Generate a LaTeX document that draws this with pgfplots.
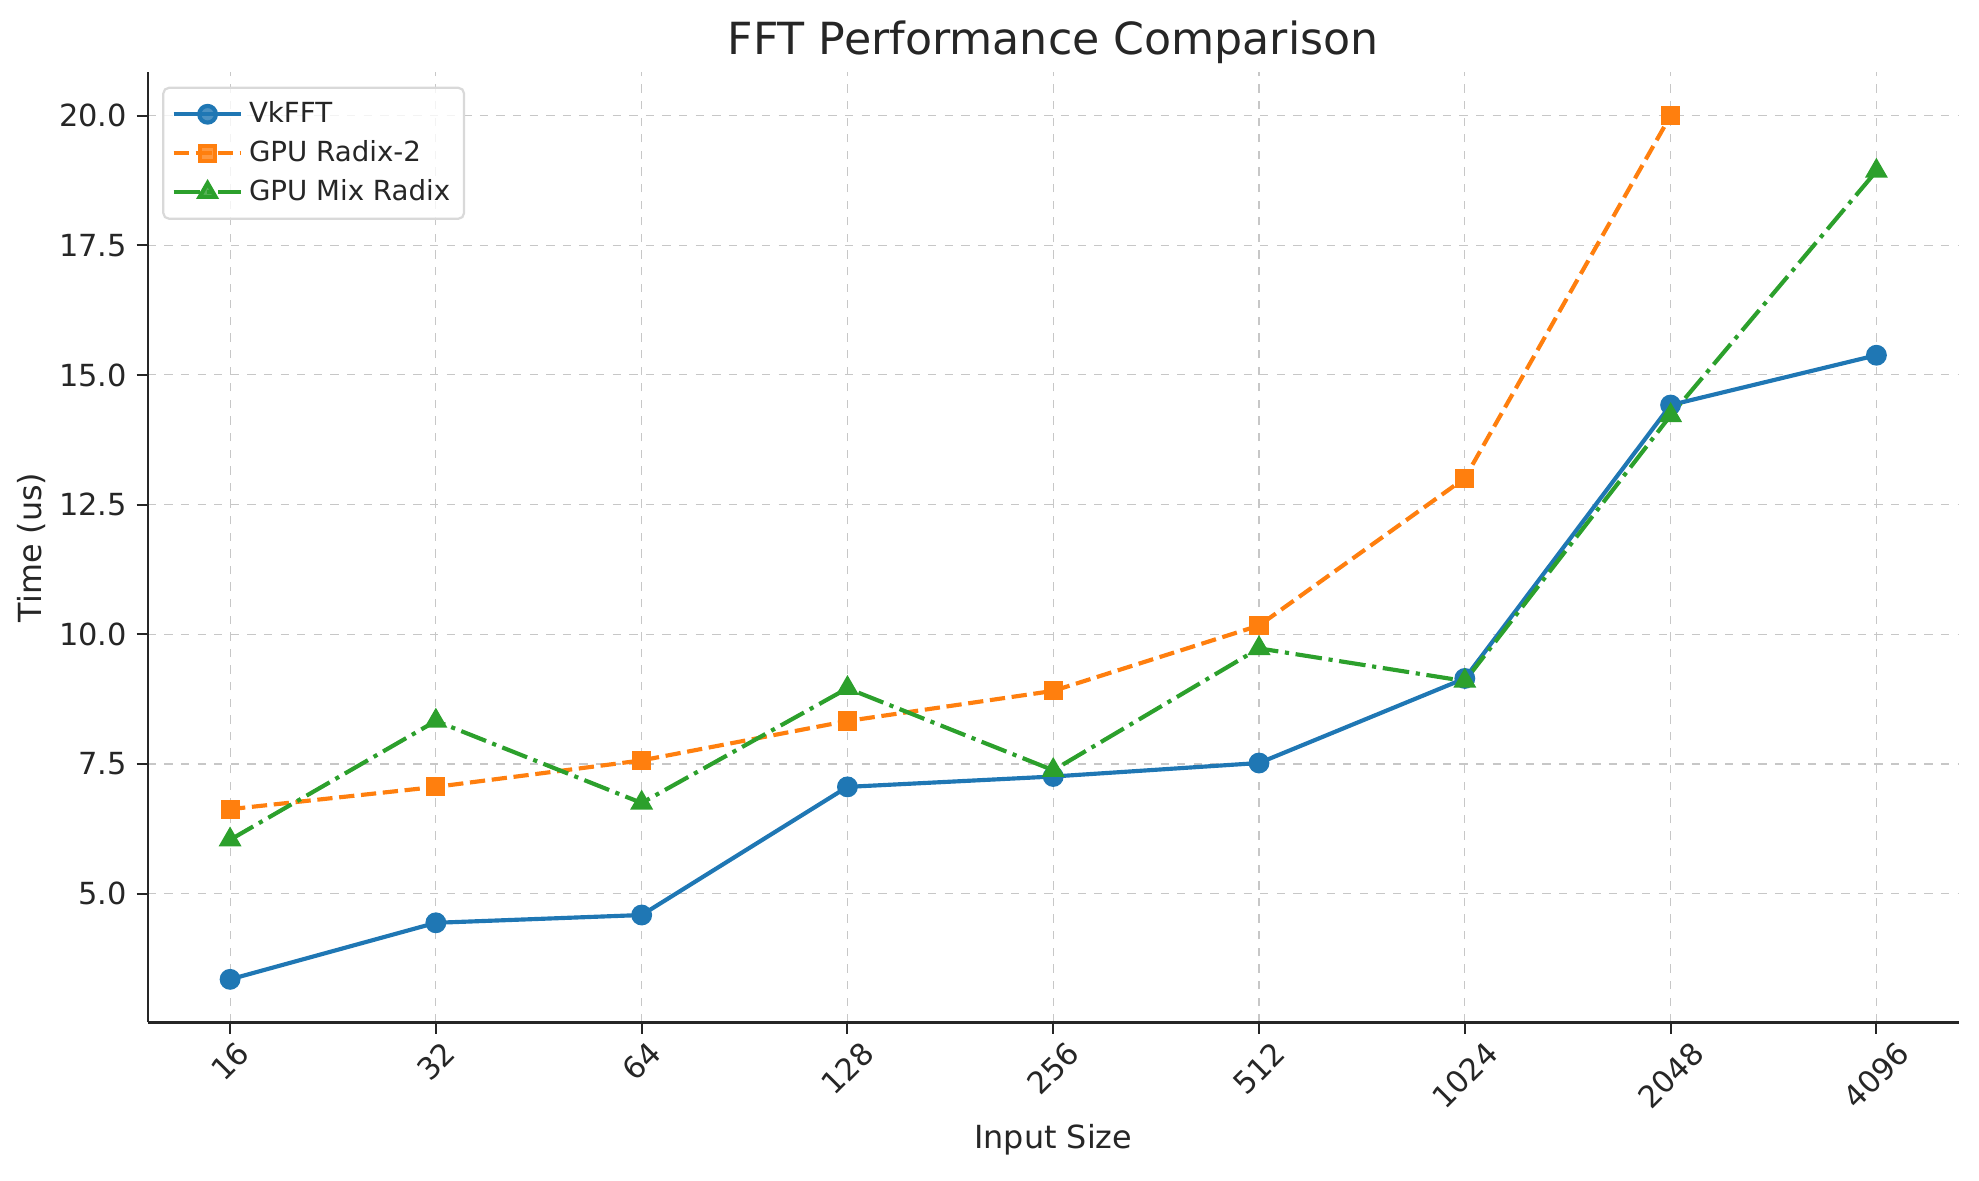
\documentclass[border=0pt]{standalone}
\usepackage{pgfplots}
\pgfplotsset{compat=1.18}
\usepackage{graphicx}
\usepackage{fontspec}
\setmainfont{DejaVu Sans}
\definecolor{tblue}{HTML}{1F77B4}
\definecolor{torange}{HTML}{FF7F0E}
\definecolor{tgreen}{HTML}{2CA02C}
\definecolor{txt}{HTML}{262626}
\begin{document}
\begin{tikzpicture}
\path[use as bounding box] (-53.2bp,-56.8bp) rectangle (659.3bp,368.1bp);
\begin{axis}[
  at={(0,0)}, anchor=south west,
  scale only axis, width=652bp, height=342bp,
  xmin=-0.4, xmax=8.4, ymin=2.52, ymax=20.83,
  axis lines*=left,
  axis line style={line width=0.9pt, color=txt},
  xtick={0,...,8},
  xticklabels={\rotatebox{45}{16},\rotatebox{45}{32},\rotatebox{45}{64},\rotatebox{45}{128},\rotatebox{45}{256},\rotatebox{45}{512},\rotatebox{45}{1024},\rotatebox{45}{2048},\rotatebox{45}{4096}},
  ytick={5,7.5,10,12.5,15,17.5,20},
  yticklabel style={/pgf/number format/fixed, /pgf/number format/fixed zerofill, /pgf/number format/precision=1},
  /pgf/number format/assume math mode=true,
  x tick label style={anchor=north, font=\fontsize{11}{13}\selectfont, text=txt, inner sep=2bp},
  y tick label style={font=\fontsize{11}{13}\selectfont, text=txt},
  tick style={line width=0.7pt, color=txt},
  tick align=outside, major tick length=4bp,
  xtick pos=bottom, ytick pos=left,
  grid=major,
  major grid style={dashed, line width=0.4pt, color=black!22},
  xlabel={Input Size}, ylabel={Time (us)},
  label style={font=\fontsize{11.5}{13}\selectfont, text=txt},
  xlabel style={yshift=0.5bp},
  ylabel style={yshift=-2bp},
  title={FFT Performance Comparison},
  title style={font=\fontsize{16}{18}\selectfont, text=txt, yshift=-6.5bp},
  legend style={font=\fontsize{10}{12}\selectfont, text=txt, draw=black!15, line width=0.8pt, rounded corners=2pt, fill=white, fill opacity=0.8, text opacity=1, row sep=1pt, inner sep=3pt, at={(0.008,0.985)}, anchor=north west},
  legend cell align=left,
  legend image code/.code={\draw[mark repeat=2,mark phase=2] plot coordinates {(0cm,0cm) (0.43cm,0cm) (0.86cm,0cm)};},
  every axis plot/.append style={line width=1.5pt},
]
\addplot[color=tblue, mark=*, mark size=3bp, mark options={solid}] coordinates {
(0,3.35) (1,4.44) (2,4.59) (3,7.06) (4,7.26) (5,7.52) (6,9.15) (7,14.42) (8,15.38)};
\addlegendentry{VkFFT}
\addplot[color=torange, mark=square*, mark size=2.7bp, mark options={solid}, dash pattern=on 5.5bp off 2.4bp] coordinates {
(0,6.63) (1,7.06) (2,7.57) (3,8.33) (4,8.91) (5,10.17) (6,13.01) (7,20.0)};
\addlegendentry{GPU Radix-2}
\addplot[color=tgreen, mark=triangle*, mark size=3.3bp, mark options={solid}, dash pattern=on 9.6bp off 2.4bp on 1.5bp off 2.4bp] coordinates {
(0,6.04) (1,8.33) (2,6.75) (3,8.96) (4,7.38) (5,9.73) (6,9.10) (7,14.22) (8,18.93)};
\addlegendentry{GPU Mix Radix}
\end{axis}
\end{tikzpicture}
\end{document}
